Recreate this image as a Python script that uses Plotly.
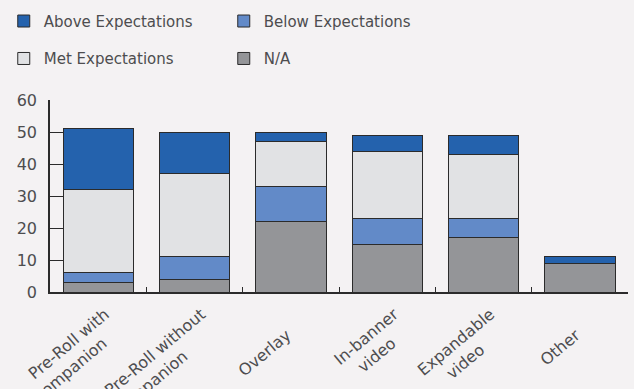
import plotly.graph_objects as go

categories = ["Pre-Roll with<br>companion", "Pre-Roll without<br>companion", "Overlay",
              "In-banner<br>video", "Expandable<br>video", "Other"]
na_vals = [3, 4, 22, 15, 17, 9]
below_vals = [3, 7, 11, 8, 6, 0]
met_vals = [26, 26, 14, 21, 20, 0]
above_vals = [19, 13, 3, 5, 6, 2]

colors = {"Above Expectations": "#2462ad", "Below Expectations": "#628ac8",
          "Met Expectations": "#e1e2e4", "N/A": "#949598"}
font_family = "DejaVu Sans, sans-serif"
txt = "#4d4d4f"

fig = go.Figure()
series = [("N/A", na_vals, "legend2"), ("Below Expectations", below_vals, "legend"),
          ("Met Expectations", met_vals, "legend2"), ("Above Expectations", above_vals, "legend")]
ranks = {"Above Expectations": 1, "Below Expectations": 2, "Met Expectations": 1, "N/A": 2}
for name, vals, lg in series:
    fig.add_trace(go.Bar(x=categories, y=vals, name=name, legend=lg, legendrank=ranks[name],
                         marker=dict(color=colors[name], line=dict(color="#2b2b2b", width=1))))


# labels: emulate centred multi-line labels by padding the shorter line
def centred(label):
    parts = label.split("<br>")
    if len(parts) == 1:
        return label
    longest = max(len(p) for p in parts)
    out = []
    for p in parts:
        pad = int(round((longest - len(p)) * 1.1))
        out.append(p + "\u00a0" * pad)
    return "<br>".join(out)


single = [c for c in categories if "<br>" not in c]
multi = [c for c in categories if "<br>" in c]

for ax in ("x2", "x3"):
    fig.add_trace(go.Scatter(x=categories, y=[0] * len(categories), xaxis=ax, mode="markers",
                             marker=dict(opacity=0), showlegend=False, hoverinfo="skip"))

legend_common = dict(orientation="h", xanchor="left", yanchor="middle", entrywidth=175,
                     entrywidthmode="pixels", bgcolor="rgba(0,0,0,0)",
                     font=dict(family=font_family, size=15, color=txt), itemwidth=30,
                     traceorder="normal")
label_axis = dict(overlaying="x", anchor="y", side="bottom", showline=False, showgrid=False,
                  ticks="", tickangle=-40, automargin=False, categoryorder="array",
                  categoryarray=categories, range=[-0.5, len(categories) - 0.5],
                  tickfont=dict(size=16, color=txt, family=font_family), tickmode="array")
fig.update_layout(
    barmode="stack", bargap=0.27,
    width=634, height=389,
    margin=dict(l=50, r=6, t=100, b=97, autoexpand=False),
    paper_bgcolor="#f4f2f3", plot_bgcolor="#f4f2f3",
    font=dict(family=font_family, color=txt),
    legend=dict(x=-0.08, y=1.41, **legend_common),
    legend2=dict(x=-0.08, y=1.215, **legend_common),
    xaxis=dict(showline=True, linecolor="#2b2b2b", linewidth=1.5, tickson="boundaries",
               ticks="inside", ticklen=5, tickcolor="#2b2b2b", automargin=False,
               showticklabels=False, showgrid=False, categoryorder="array",
               categoryarray=categories, range=[-0.5, len(categories) - 0.5]),
    xaxis2=dict(tickvals=single, ticktext=single, ticklabelstandoff=30, ticklabelshift=-4,
                **label_axis),
    xaxis3=dict(tickvals=multi, ticktext=[centred(c) for c in multi], ticklabelstandoff=9,
                ticklabelshift=7, **label_axis),
    yaxis=dict(range=[0, 60], dtick=10, showline=True, linecolor="#2b2b2b", linewidth=1.5,
               ticks="inside", ticklen=13, tickcolor="#2b2b2b", showgrid=False, zeroline=False,
               automargin=False, ticklabelstandoff=8,
               tickfont=dict(size=16, color=txt, family=font_family)),
)
fig.write_html("out.html")
